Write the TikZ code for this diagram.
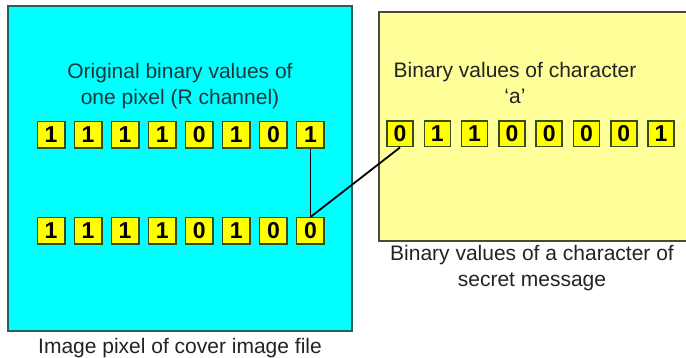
\documentclass[tikz,border=0pt]{standalone}
\usepackage{fontspec}
\setmainfont{Liberation Sans}
\definecolor{pixcyan}{RGB}{0,255,255}
\definecolor{pixedge}{RGB}{40,95,95}
\definecolor{msgyellow}{RGB}{255,255,153}
\definecolor{msgedge}{RGB}{75,75,55}
\definecolor{bitfill}{RGB}{255,255,0}
\definecolor{bitedge}{RGB}{55,75,30}
\definecolor{cyantext}{RGB}{25,55,55}
\definecolor{plaintext}{RGB}{35,35,35}
\tikzset{
  bitbox/.style={draw=bitedge, fill=bitfill, line width=1.5pt, inner sep=0pt,
    minimum width=27.5pt, minimum height=26.5pt,
    font=\fontsize{23}{23}\selectfont\bfseries, text=black},
  rbitbox/.style={bitbox, minimum width=26pt, minimum height=25.5pt},
  label21/.style={align=center, anchor=base, font=\fontsize{21}{26}\selectfont},
  wire/.style={draw=black, line width=1.8pt}
}
\begin{document}
\begin{tikzpicture}[x=1pt, y=-1pt]
  \useasboundingbox (0,0) rectangle (686,358);

  % cover image pixel panel
  \draw[fill=pixcyan, draw=pixedge, line width=1.5pt] (8,6) rectangle (352,331);
  % two-line labels are placed by the baseline of their last line
  \node[label21, text=cyantext] (origlbl) at (180,105)
    {Original binary values of\\one pixel (R channel)};
  \node[label21, text=plaintext] (coverlbl) at (180,353)
    {Image pixel of cover image file};

  % secret message panel (runs past the right edge)
  \fill[msgyellow] (379,12) rectangle (690,241);
  \draw[draw=msgedge, line width=1.5pt] (690,12) -- (379,12) -- (379,241) -- (690,241);
  \node[label21, text=plaintext] (charlbl) at (515,104)
    {Binary values of character\\`a'};
  \node[label21, text=plaintext] (msglbl) at (532,287)
    {Binary values of a character of\\secret message};

  % original bits (top row) and modified bits (bottom row)
  \foreach \b [count=\i from 0] in {1,1,1,1,0,1,0,1}
    \node[bitbox] (t\i) at ({51+37.07*\i},135) {\b};
  \foreach \b [count=\i from 0] in {1,1,1,1,0,1,0,0}
    \node[bitbox] (b\i) at ({51+37.07*\i},231) {\b};

  % bits of the character
  \foreach \b [count=\i from 0] in {0,1,1,0,0,0,0,1}
    \node[rbitbox] (c\i) at ({400+37.3*\i},134) {\b};

  % LSB replacement connectors
  \draw[wire] (t7.south) -- (b7.north);
  \draw[wire] (b7.north) -- (c0.south);
\end{tikzpicture}
\end{document}
